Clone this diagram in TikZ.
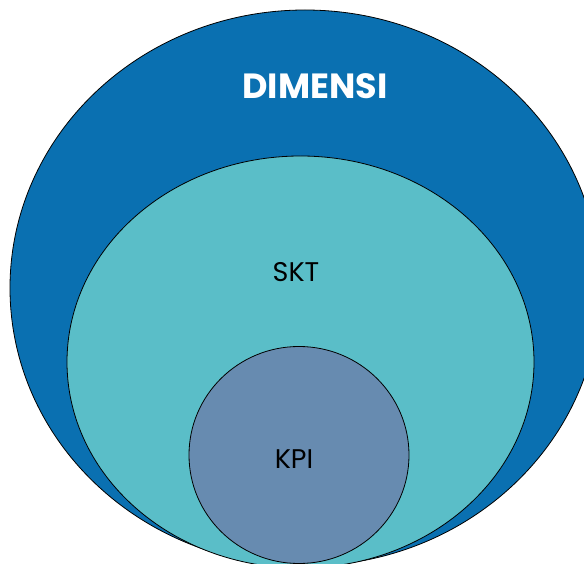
\documentclass[tikz,border=0pt]{standalone}
\usepackage{fontspec}
\setmainfont{Poppins}
\definecolor{outerblue}{HTML}{0A70B1}
\definecolor{midteal}{HTML}{5ABEC8}
\definecolor{innerblue}{HTML}{678BB0}
\begin{document}
\begin{tikzpicture}[x=1pt,y=-1pt,
  ring/.style={draw=black,line width=0.8pt},
  lbl/.style={inner sep=0pt,anchor=center}]
\useasboundingbox (0,0) rectangle (584,564);
\clip (0,0) rectangle (584,564);
\fill[white] (0,0) rectangle (584,564);
\draw[ring,fill=outerblue] (305,288) ellipse [x radius=295,y radius=278];
\draw[ring,fill=midteal] (300.5,362) ellipse [x radius=233.5,y radius=206];
\draw[ring,fill=innerblue] (299,455) ellipse [x radius=110,y radius=108.5];
\node[lbl,text=white,font=\fontsize{35}{40}\selectfont\bfseries] (dim) at (315,86) {DIMENSI};
\node[lbl,text=black,font=\fontsize{27}{32}\selectfont] (skt) at (296,272) {SKT};
\node[lbl,text=black,font=\fontsize{27}{32}\selectfont] (kpi) at (294,459) {KPI};
\end{tikzpicture}
\end{document}
